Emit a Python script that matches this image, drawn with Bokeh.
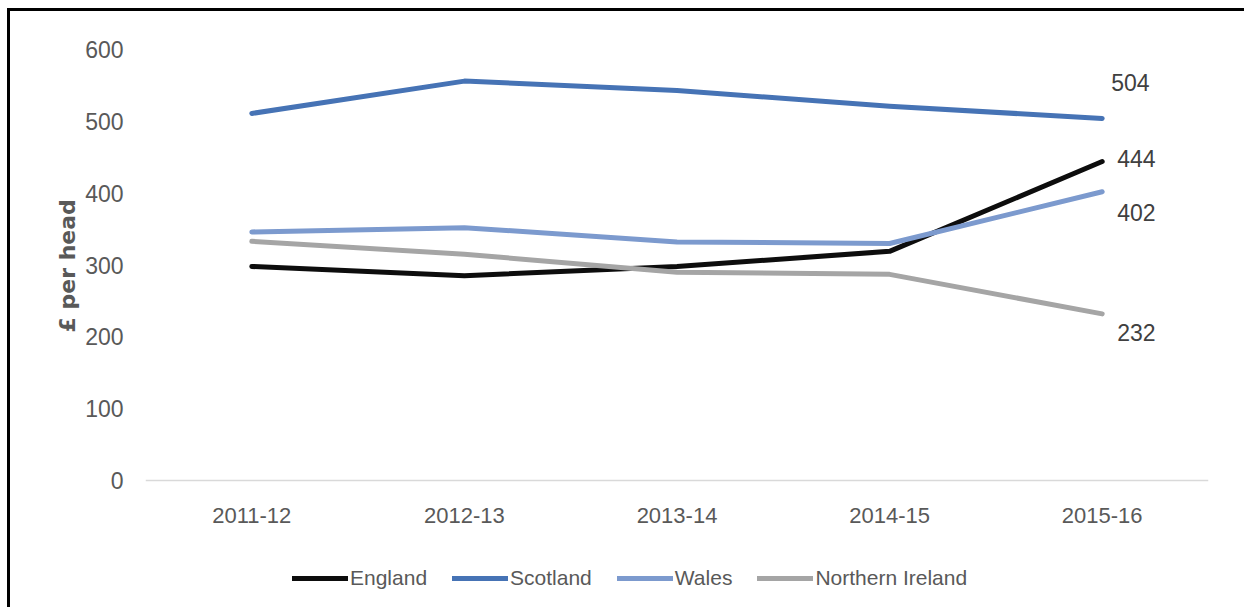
from bokeh.plotting import figure
from bokeh.models import Range1d, Legend, LegendItem, ColumnDataSource, FixedTicker, Title
from bokeh.core.properties import value
from bokeh.embed import file_html
from bokeh.resources import INLINE

# Spending per head by nation, financial years
years = ["2011-12", "2012-13", "2013-14", "2014-15", "2015-16"]
england = [298, 285, 298, 319, 444]
scotland = [511, 556, 543, 521, 504]
wales = [346, 352, 332, 330, 402]
northern_ireland = [333, 315, 290, 287, 232]
y_ticks = [0, 100, 200, 300, 400, 500, 600]

series_names = ["England", "Scotland", "Wales", "Northern Ireland"]
series_values = [england, scotland, wales, northern_ireland]
series_colors = ["#0d0d0d", "#4673b5", "#7c9ace", "#a5a5a5"]
# pixel offsets of the end-of-line value labels
label_dx = [15, 9, 15, 15]
label_dy = [-3, -36, 21, 19]

FONT = "Liberation Sans Narrow, Liberation Sans, sans-serif"
TXT = "#595959"

# the frame reaches below zero so the legend fits inside it; the x axis sits at y = 0
p = figure(
    x_range=years, y_range=Range1d(-174, 600),
    width=1237, height=599,
    output_backend="svg", toolbar_location=None,
    min_border_left=135, min_border_right=39,
    min_border_top=38, min_border_bottom=5,
    background_fill_color="white", border_fill_color="white",
)
p.styles = {
    "margin-left": "7px", "margin-top": "8px",
    "border-left": "3px solid #000", "border-top": "3px solid #000",
}
p.outline_line_color = None
p.xgrid.grid_line_color = None
p.ygrid.grid_line_color = None

p.yaxis.ticker = FixedTicker(ticks=y_ticks)
p.yaxis.axis_line_color = None
p.yaxis.major_tick_line_color = None
p.yaxis.minor_tick_line_color = None
p.yaxis.major_label_text_font = FONT
p.yaxis.major_label_text_font_size = "23px"
p.yaxis.major_label_text_color = TXT
p.yaxis.major_label_standoff = 16

p.xaxis.fixed_location = 0
p.xaxis.axis_line_color = "#d9d9d9"
p.xaxis.axis_line_width = 1.5
p.xaxis.major_tick_line_color = None
p.xaxis.minor_tick_line_color = None
p.xaxis.major_label_text_font = FONT
p.xaxis.major_label_text_font_size = "22px"
p.xaxis.major_label_text_color = TXT
p.xaxis.major_label_standoff = 21

# vertical axis title, placed over the 0-600 span rather than the whole frame
y_title = Title(text="£ per head", align="left", offset=273, standoff=6,
                text_font="DejaVu Sans", text_font_size="22px",
                text_font_style="bold", text_color=TXT)
p.add_layout(y_title, "left")

items = []
for name, vals, col in zip(series_names, series_values, series_colors):
    r = p.line(years, vals, line_color=col, line_width=5, line_cap="round", line_join="round")
    items.append(LegendItem(label=name, renderers=[r]))

label_src = ColumnDataSource(dict(
    x=[years[-1]] * len(series_values),
    y=[v[-1] for v in series_values],
    t=[str(v[-1]) for v in series_values],
    dx=label_dx, dy=label_dy,
))
p.text(x="x", y="y", text="t", x_offset="dx", y_offset="dy", source=label_src,
       text_font=value(FONT), text_font_size="23px", text_color="#404040",
       text_align="left", text_baseline="middle")

legend = Legend(
    items=items, orientation="horizontal", location=(147, 15),
    glyph_width=56, glyph_height=20, label_standoff=2, spacing=25,
    padding=0, margin=0, border_line_color=None, background_fill_alpha=0,
    label_text_font=FONT, label_text_font_size="21px", label_text_color=TXT,
)
p.add_layout(legend)

open("out.html", "w").write(file_html(p, INLINE))
